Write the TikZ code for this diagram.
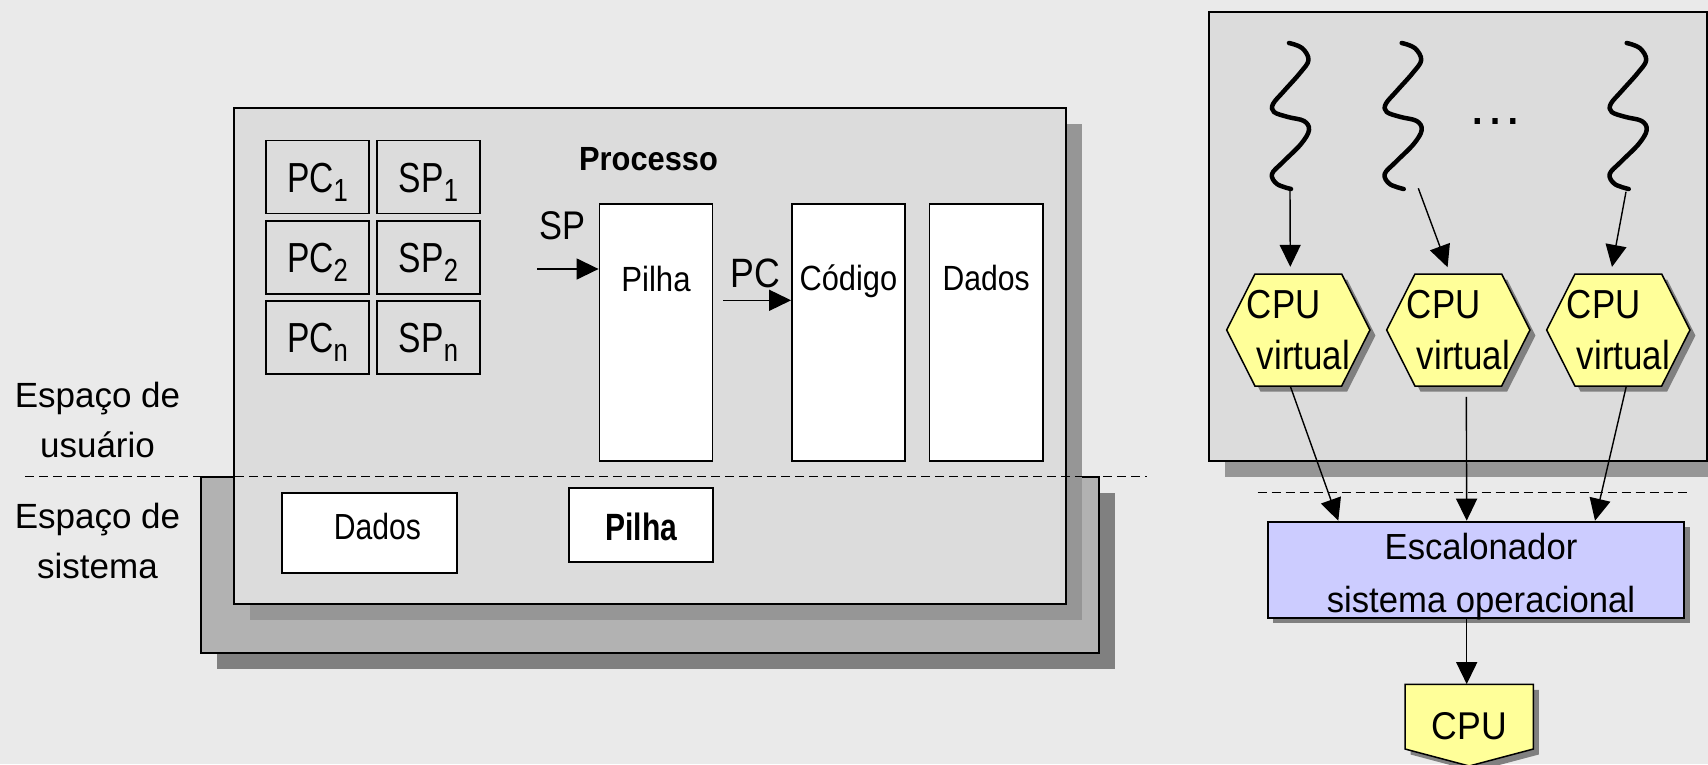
\documentclass[tikz,border=0pt]{standalone}
\usepackage{fontspec}
\setmainfont{Liberation Sans}
\usetikzlibrary{arrows.meta,calc,shadows}
\definecolor{bgc}{HTML}{EAEAEA}
\definecolor{boxc}{HTML}{DCDCDC}
\definecolor{sysc}{HTML}{B2B2B2}
\definecolor{shdark}{HTML}{808080}
\definecolor{shmid}{HTML}{969696}
\definecolor{yel}{HTML}{FFFF99}
\definecolor{lav}{HTML}{CCCCFF}
\newcommand\tf[3]{\addfontfeatures{FakeStretch=#3}\fontsize{#1}{#2}\selectfont}
\newcommand\sbx[1]{\raisebox{-9.4pt}{\fontsize{32}{32}\selectfont #1}}
\newcommand\hexat[1]{($(#1)+(-71.65,0)$) -- ($(#1)+(-43.35,-56)$) -- ($(#1)+(43.35,-56)$) -- ($(#1)+(71.65,0)$) -- ($(#1)+(43.35,56)$) -- ($(#1)+(-43.35,56)$) -- cycle}
\newcommand\threadpath{plot[smooth, tension=0.6] coordinates {(1289,43) (1302,48) (1308.5,60) (1300,73) (1284,91) (1273,104) (1274,112) (1288,117) (1304,121) (1309,130) (1301,144) (1283,162) (1272,174) (1277,184) (1291,189)}}
\tikzset{
  bigbox/.style={draw=black, line width=2pt, fill=boxc, inner sep=0pt},
  regbox/.style={draw=black, line width=1.5pt, fill=boxc, minimum width=103pt, minimum height=73pt, inner sep=0pt, text height=30pt, text depth=0pt, font=\tf{42}{42}{0.8}},
  whitebox/.style={draw=black, line width=1.8pt, fill=white, inner sep=0pt},
  arr/.style={line width=1.4pt, -{Triangle[length=22pt,width=21pt]}},
  dsh/.style={line width=1.5pt, dash pattern=on 9pt off 5pt},
  thr/.style={line width=4.5pt, line cap=round, line join=round},
  lbl/.style={inner sep=0pt},
  shbig/.style={drop shadow={shadow xshift=16pt, shadow yshift=-16pt, fill=#1, opacity=1}},
  shsmall/.style={drop shadow={shadow xshift=5.5pt, shadow yshift=-5.5pt, fill=shdark, opacity=1}},
  hexn/.style={minimum width=143.3pt, minimum height=112pt, inner sep=0pt, align=left, font=\tf{40.5}{50.7}{0.86}},
  hexfill/.style={draw=black, line width=1.5pt, fill=yel, shsmall},
}
\begin{document}
\begin{tikzpicture}[x=1pt,y=-1pt]
\useasboundingbox (0,0) rectangle (1708,764);
\fill[bgc] (0,0) rectangle (1708,764);

% ---------- left: process ----------
\node[bigbox, fill=sysc, shbig=shdark, minimum width=897.6pt, minimum height=176pt] (sys) at (649.8,564.7) {};
\node[bigbox, shbig=shmid, minimum width=832pt, minimum height=495.7pt] (proc) at (650,356.2) {};

\node[regbox] (pc1) at (317.5,177) {PC\sbx{1}};
\node[regbox] (sp1) at (428.5,177) {SP\sbx{1}};
\node[regbox] (pc2) at (317.5,257.35) {PC\sbx{2}};
\node[regbox] (sp2) at (428.5,257.35) {SP\sbx{2}};
\node[regbox] (pcn) at (317.5,337.35) {PC\sbx{n}};
\node[regbox] (spn) at (428.5,337.35) {SP\sbx{n}};

\node[lbl, anchor=base, font=\bfseries\tf{33.5}{33.5}{0.92}] (proct) at (648.5,170.7) {Processo};

\node[whitebox, minimum width=113pt, minimum height=256.4pt, text height=10pt, text depth=93pt, font=\tf{35}{35}{0.89}] (pilha) at (656,332.5) {Pilha};
\node[whitebox, minimum width=112.8pt, minimum height=256.4pt, text height=10pt, text depth=95pt, font=\tf{35}{35}{0.88}] (cod) at (848.4,332.5) {Código};
\node[whitebox, minimum width=113.2pt, minimum height=256.4pt, text height=10pt, text depth=95pt, font=\tf{35}{35}{0.86}] (dad) at (986.1,332.5) {Dados};

\node[lbl, anchor=base, font=\tf{40}{40}{0.86}] (spl) at (562,239) {SP};
\node[lbl, anchor=base, font=\tf{41}{41}{0.87}] (pcl) at (755,287.7) {PC};
\coordinate (spa) at (537,269);
\coordinate (pca) at (723,300.3);
\draw[arr] (spa) -- (spa -| pilha.west);
\draw[arr] (pca) -- (pca -| cod.west);

\node[whitebox, minimum width=175.6pt, minimum height=80.6pt, text height=12.6pt, text depth=0pt, font=\tf{36.3}{36.3}{0.83}] (sdad) at (369.5,533) {\hspace*{16pt}Dados};
\node[whitebox, minimum width=144.3pt, minimum height=74pt, text height=29.4pt, text depth=0pt, font=\bfseries\tf{38}{38}{0.79}] (spil) at (641.2,525.3) {Pilha};

\coordinate (dl1) at (25,476.7);
\coordinate (dl2) at (1147,476.7);
\draw[dsh] (dl1) -- (dl2);

\node[lbl, anchor=north, align=center, font=\tf{35}{50}{1}] (usr) at (97.5,381.6) {Espaço de\\usuário};
\node[lbl, anchor=north, align=center, font=\tf{35}{50.6}{1}] (sis) at (97.5,502.6) {Espaço de\\sistema};

% ---------- right: threads ----------
\node[bigbox, shbig=shmid, minimum width=497.4pt, minimum height=448.7pt] (thr) at (1458,236.7) {};

\draw[thr] \threadpath;
\draw[thr, shift={(112.7,0)}] \threadpath;
\draw[thr, shift={(337.7,0)}] \threadpath;
\node[lbl, anchor=base, font=\fontsize{56}{56}\selectfont] (dots) at (1495,124) {…};

\coordinate (h1c) at (1298.3,330);
\coordinate (h2c) at (1458.3,330);
\coordinate (h3c) at (1618.3,330);
\path[hexfill] \hexat{h1c};
\path[hexfill] \hexat{h2c};
\path[hexfill] \hexat{h3c};
\node[hexn] (h1) at (h1c) {CPU\\\hspace*{10pt}virtual};
\node[hexn] (h2) at (h2c) {CPU\\\hspace*{10pt}virtual};
\node[hexn] (h3) at (h3c) {CPU\\\hspace*{10pt}virtual};

\coordinate (t1) at (1290,190);
\coordinate (t2) at (1418.3,188.3);
\coordinate (t3) at (1626,191.7);
\draw[arr, shorten >=7pt] (t1) -- ([xshift=-8pt]h1.north);
\draw[arr, shorten >=7pt] (t2) -- ([xshift=-8.3pt]h2.north);
\draw[arr, shorten >=7pt] (t3) -- ([xshift=-7.6pt]h3.north);

\coordinate (dr1) at (1257.7,492.7);
\coordinate (dr2) at (1691,492.7);
\draw[dsh] (dr1) -- (dr2);

\node[draw=black, line width=2pt, fill=lav, shsmall, minimum width=416.6pt, minimum height=96pt, inner sep=0pt] (esc) at (1476,569.7) {};
\node[lbl, anchor=north, align=center, font=\tf{36.3}{52.4}{0.955}] (esct) at (1481,533.3) {Escalonador\\sistema operacional};

\draw[arr] ([xshift=-8pt]h1.south) -- ([xshift=-137.7pt]esc.north);
\draw[arr, shorten <=10.7pt] ([xshift=8pt]h2.south) -- ([xshift=-9.3pt]esc.north);
\draw[arr] ([xshift=8pt]h3.south) -- ([xshift=119pt]esc.north);

\coordinate (cpc) at (1469.2,716.65);
\path[hexfill] ($(cpc)+(-64.15,-32.35)$) -- ($(cpc)+(64.15,-32.35)$) -- ($(cpc)+(64.15,32.35)$) -- ($(cpc)+(0,49.35)$) -- ($(cpc)+(-64.15,32.35)$) -- cycle;
\node[minimum width=128.3pt, minimum height=64.7pt, inner sep=0pt, text height=45.4pt, text depth=0pt, font=\tf{38.7}{38.7}{0.92}] (cpu) at (cpc) {CPU};

\coordinate (ec) at ([xshift=-9.3pt]esc.south);
\draw[arr] (ec) -- (ec |- cpu.north);
\end{tikzpicture}
\end{document}
